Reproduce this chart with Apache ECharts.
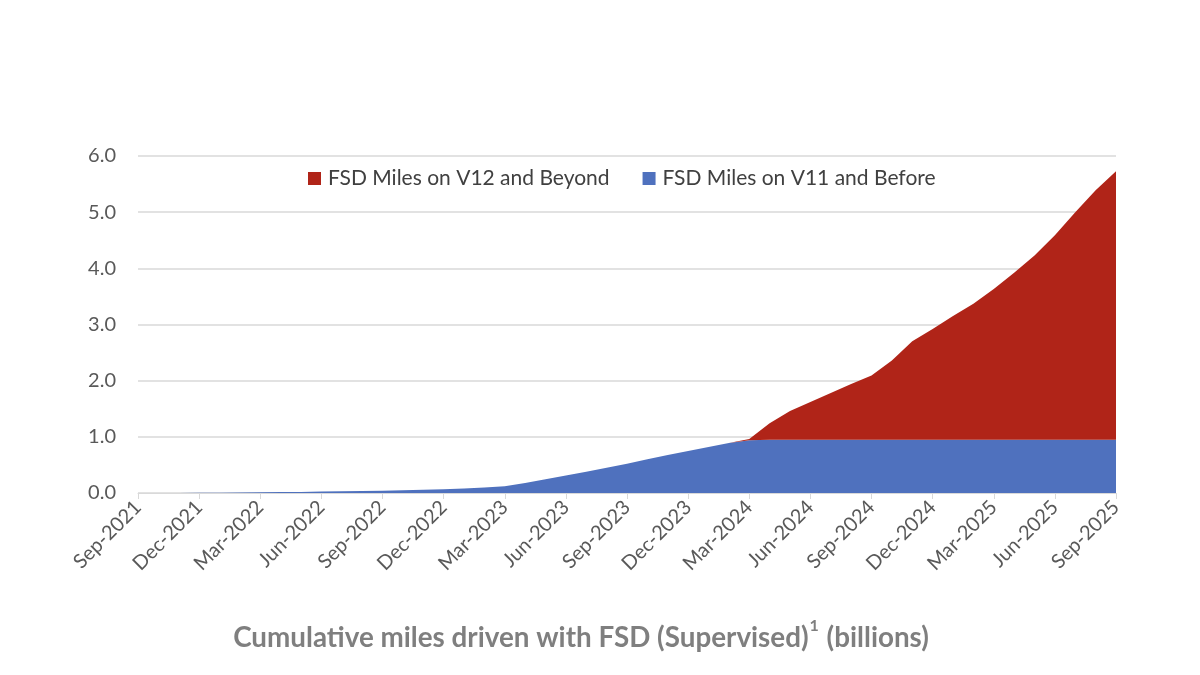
<!DOCTYPE html>
<html>
<head>
<meta charset="utf-8">
<script src="https://cdn.jsdelivr.net/npm/echarts@6/dist/echarts.min.js"></script>
<style>
html,body{margin:0;padding:0;background:#fff;}
#chart{width:1200px;height:675px;}
</style>
</head>
<body>
<div id="chart"></div>
<script>
const categories = [
  'Sep-2021','Oct-2021','Nov-2021','Dec-2021','Jan-2022','Feb-2022','Mar-2022','Apr-2022','May-2022','Jun-2022',
  'Jul-2022','Aug-2022','Sep-2022','Oct-2022','Nov-2022','Dec-2022','Jan-2023','Feb-2023','Mar-2023','Apr-2023',
  'May-2023','Jun-2023','Jul-2023','Aug-2023','Sep-2023','Oct-2023','Nov-2023','Dec-2023','Jan-2024','Feb-2024',
  'Mar-2024','Apr-2024','May-2024','Jun-2024','Jul-2024','Aug-2024','Sep-2024','Oct-2024','Nov-2024','Dec-2024',
  'Jan-2025','Feb-2025','Mar-2025','Apr-2025','May-2025','Jun-2025','Jul-2025','Aug-2025','Sep-2025'
];
const v11Before = [
  0, 0.001, 0.002, 0.004, 0.006, 0.009, 0.012, 0.016, 0.02, 0.025,
  0.03, 0.035, 0.04, 0.048, 0.056, 0.065, 0.08, 0.10, 0.12, 0.18,
  0.245, 0.31, 0.38, 0.45, 0.52, 0.60, 0.675, 0.75, 0.82, 0.89,
  0.94, 0.95, 0.95, 0.95, 0.95, 0.95, 0.95, 0.95, 0.95, 0.95,
  0.95, 0.95, 0.95, 0.95, 0.95, 0.95, 0.95, 0.95, 0.95
];
const v12Beyond = [
  0, 0, 0, 0, 0, 0, 0, 0, 0, 0,
  0, 0, 0, 0, 0, 0, 0, 0, 0, 0,
  0, 0, 0, 0, 0, 0, 0, 0, 0, 0,
  0.02, 0.29, 0.51, 0.67, 0.83, 0.99, 1.14, 1.41, 1.75, 1.97,
  2.20, 2.42, 2.68, 2.97, 3.28, 3.64, 4.05, 4.44, 4.78
];
const yTicks = { min: 0, max: 6, interval: 1 };
const titleText = 'Cumulative miles driven with FSD (Supervised)';

const chart = echarts.init(document.getElementById('chart'), null, {renderer:'canvas'});
const font = 'Lato, "Open Sans", sans-serif';
chart.setOption({
  animation: false,
  backgroundColor: '#ffffff',
  title: {
    text: '{m|' + titleText + '}{s|1}{m| (billions)}',
    left: 576, top: 613, textAlign: 'center',
    textStyle: {
      rich: {
        m: { fontFamily: font, fontWeight: 'bold', fontSize: 27.8, color: '#7f7f7f', verticalAlign: 'bottom', lineHeight: 34 },
        s: { fontFamily: font, fontWeight: 'bold', fontSize: 16, color: '#7f7f7f', verticalAlign: 'top', lineHeight: 34, padding: [0,1,6,1] }
      }
    }
  },
  legend: {
    top: 163, left: 303,
    itemWidth: 13, itemHeight: 13, itemGap: 33,
    icon: 'rect',
    textStyle: { fontFamily: font, fontSize: 21, color: '#404040', padding: [0,0,0,2] },
    data: ['FSD Miles on V12 and Beyond', 'FSD Miles on V11 and Before']
  },
  grid: { left: 138, right: 84, top: 156, bottom: 182, containLabel: false },
  xAxis: {
    type: 'category',
    boundaryGap: false,
    data: categories,
    axisLine: { lineStyle: { color: '#d9d9d9', width: 1 } },
    axisTick: { show: true, interval: 2, length: 6, lineStyle: { color: '#d9d9d9' } },
    axisLabel: { interval: 2, rotate: 45, fontFamily: font, fontSize: 20, color: '#595959', margin: 11 },
    splitLine: { show: false }
  },
  yAxis: {
    type: 'value',
    min: yTicks.min, max: yTicks.max, interval: yTicks.interval,
    axisLine: { show: false },
    axisTick: { show: false },
    axisLabel: { formatter: v => v.toFixed(1), fontFamily: font, fontSize: 20, color: '#595959', margin: 22 },
    splitLine: { lineStyle: { color: '#d9d9d9', width: 1.5 } }
  },
  series: [
    {
      name: 'FSD Miles on V11 and Before',
      type: 'line', stack: 'total', data: v11Before,
      symbol: 'none', lineStyle: { width: 0 },
      itemStyle: { color: '#4f71be' },
      areaStyle: { color: '#4f71be', opacity: 1 }
    },
    {
      name: 'FSD Miles on V12 and Beyond',
      type: 'line', stack: 'total', data: v12Beyond,
      symbol: 'none', lineStyle: { width: 0 },
      itemStyle: { color: '#b02418' },
      areaStyle: { color: '#b02418', opacity: 1 }
    }
  ]
});
</script>
</body>
</html>
